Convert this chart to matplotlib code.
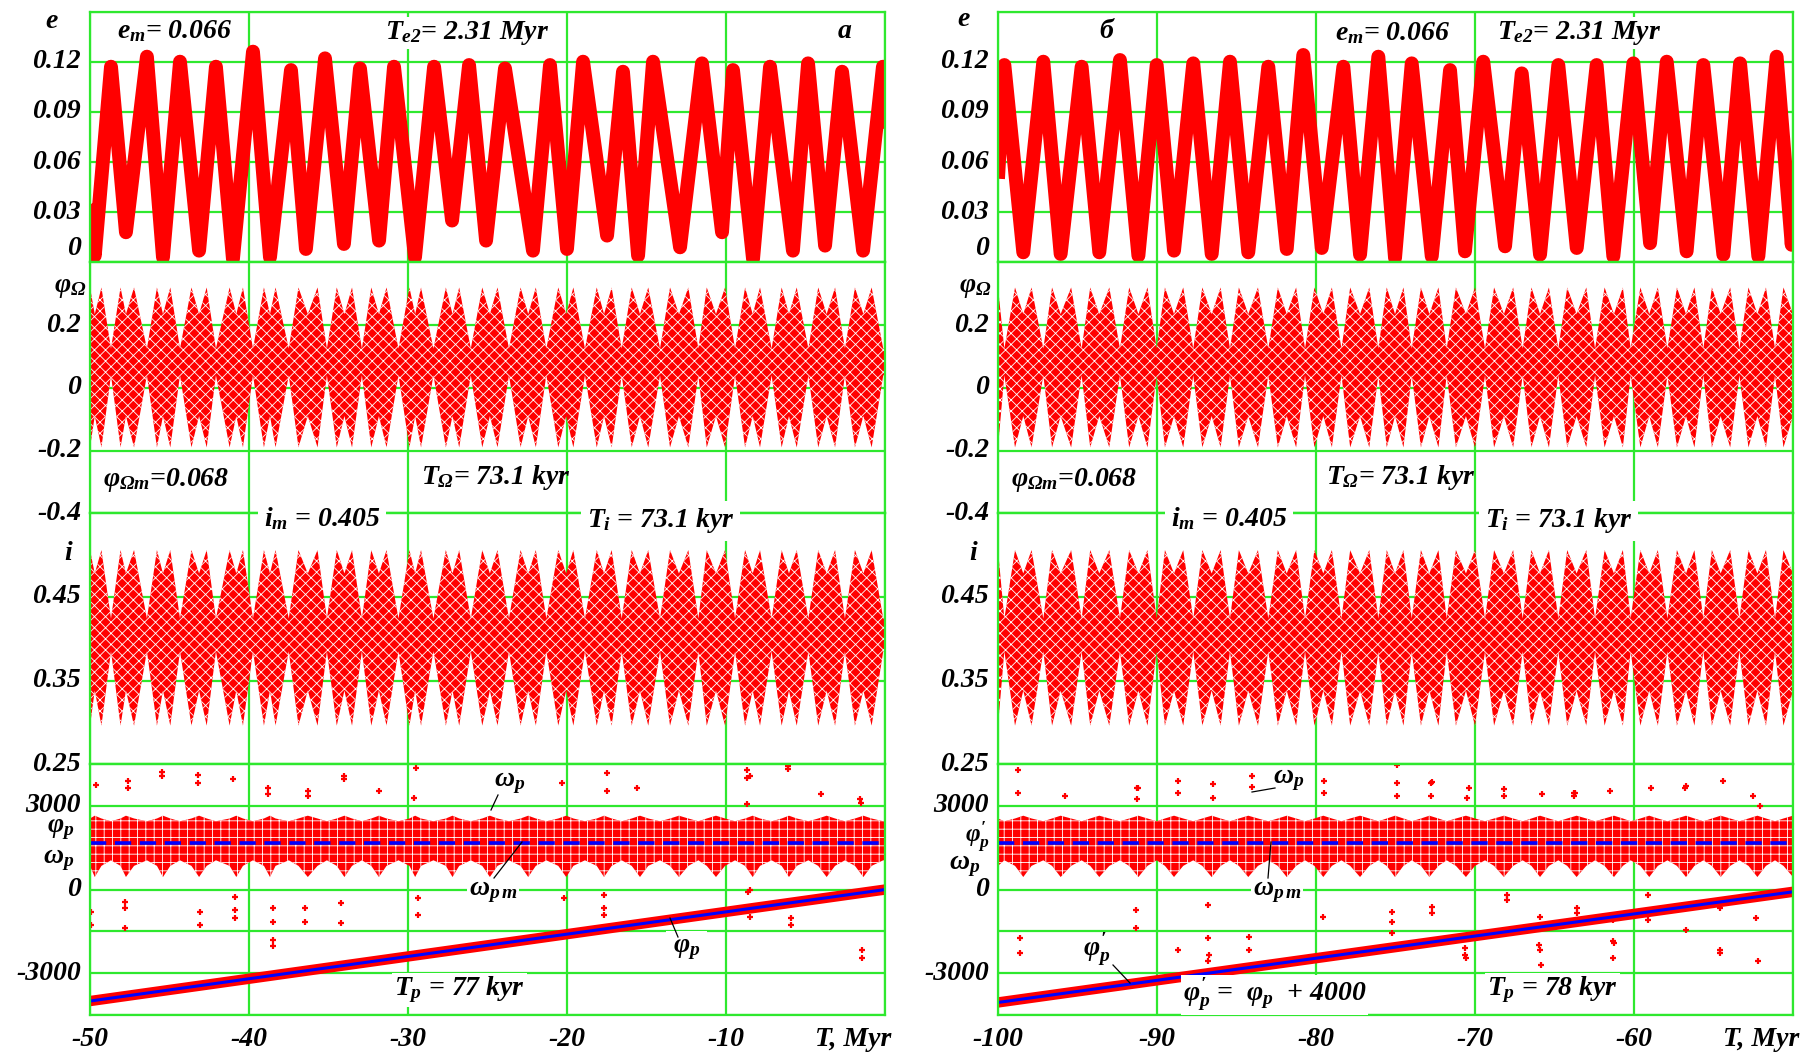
import numpy as np
import matplotlib
matplotlib.use('Agg')
import matplotlib.pyplot as plt

# ---------------- data ----------------
# eccentricity extremes, left panel (T in Myr)
eL_T = [-50.0, -49.7, -48.68, -47.74, -46.42, -45.41, -44.34, -43.14, -42.08, -41.01, -39.75, -38.68,
        -37.36, -36.42, -35.22, -34.03, -33.02, -31.82, -30.88, -29.56, -28.36, -27.23, -26.16, -25.09,
        -23.9, -22.14, -21.07, -20.0, -18.99, -17.48, -16.48, -15.53, -14.59, -12.89, -11.51, -10.25,
        -9.56, -8.30, -7.23, -5.79, -4.84, -3.77, -2.70, -1.38, -0.13, 0.0]
eL_v = [0.035, 0.004, 0.117, 0.018, 0.123, 0.003, 0.120, 0.007, 0.117, 0.002, 0.126, 0.003,
        0.115, 0.008, 0.122, 0.011, 0.116, 0.013, 0.117, 0.003, 0.117, 0.025, 0.118, 0.013,
        0.116, 0.007, 0.118, 0.008, 0.120, 0.016, 0.114, 0.004, 0.120, 0.009, 0.119, 0.018,
        0.115, 0.002, 0.117, 0.007, 0.119, 0.010, 0.114, 0.007, 0.117, 0.080]
# eccentricity extremes, right panel
eR_T = [-100.0, -99.6, -98.41, -97.15, -96.06, -94.74, -93.63, -92.33, -91.17, -90.02, -88.93, -87.72,
        -86.56, -85.41, -84.26, -83.0, -81.84, -80.80, -79.64, -78.28, -77.23, -76.08, -75.03, -73.98,
        -72.72, -71.57, -70.63, -69.48, -68.11, -67.06, -65.91, -64.76, -63.60, -62.35, -61.30, -60.04,
        -58.99, -57.94, -56.69, -55.64, -54.38, -53.33, -52.18, -51.03, -50.08, -50.0]
eR_v = [0.05, 0.118, 0.006, 0.12, 0.005, 0.117, 0.006, 0.121, 0.004, 0.118, 0.007, 0.119,
        0.005, 0.12, 0.006, 0.117, 0.008, 0.124, 0.0086, 0.117, 0.0046, 0.123, 0.0026, 0.119,
        0.0036, 0.115, 0.0066, 0.12, 0.0096, 0.113, 0.0046, 0.118, 0.0086, 0.118, 0.0036, 0.119,
        0.0115, 0.12, 0.0066, 0.118, 0.0046, 0.119, 0.0036, 0.123, 0.0105, 0.03]

# envelope knots of the phi_Omega / i / omega_p bands: necks (N), shallow necks (S), lobes (L)
envL_N = [-48.68, -46.42, -44.34, -42.08, -39.75, -37.5, -35.1, -32.9, -30.6, -28.4, -26.05, -23.65,
          -21.3, -18.87, -16.56, -14.15, -11.74, -9.43, -7.13, -4.82, -2.52, -0.11, 0.0]
envL_S = [-49.7, -47.74, -45.41, -43.14, -40.8, -38.68, -36.3, -34.0, -31.83, -29.55, -27.2, -24.85,
          -22.44, -20.05, -17.67, -15.41, -12.96, -10.63, -8.32, -6.04, -3.67, -1.36]
envL_L = [-50.0, -49.28, -48.08, -47.23, -45.79, -44.95, -43.62, -42.66, -41.22, -40.38, -39.06, -38.33,
          -36.89, -35.69, -34.48, -33.52, -32.31, -31.35, -29.91, -29.18, -27.62, -26.78, -25.33, -24.37,
          -22.92, -21.96, -20.55, -19.6, -18.13, -17.19, -15.93, -14.89, -13.52, -12.37, -11.21, -10.06,
          -8.8, -7.86, -6.5, -5.55, -4.2, -3.14, -1.89, -0.84]
envR_N = [-99.6, -97.15, -94.74, -92.33, -90.02, -87.72, -85.41, -83.0, -80.69, -78.4, -76.08, -73.98,
          -71.78, -69.37, -67.0, -64.76, -62.45, -60.21, -57.9, -55.64, -53.37, -51.13]
envR_S = [-98.41, -96.06, -93.63, -91.17, -88.93, -86.56, -84.26, -81.84, -79.54, -77.23, -75.03, -72.87,
          -70.57, -68.18, -65.91, -63.61, -61.26, -59.04, -56.73, -54.55, -52.24, -50.0]
envR_L = [-100.0, -98.93, -97.89, -96.6, -95.4, -94.2, -93.0, -91.75, -90.6, -89.5, -88.35, -87.15,
          -86.0, -84.85, -83.65, -82.4, -81.25, -80.1, -79.0, -77.85, -76.65, -75.55, -74.5, -73.4,
          -72.3, -71.2, -70.0, -68.8, -67.6, -66.45, -65.35, -64.2, -63.0, -61.85, -60.7, -59.6,
          -58.5, -57.3, -56.2, -55.1, -53.95, -52.8, -51.7, -50.6]
# band levels (low, high) read at each knot kind
phiO_levels = {'N': (0.04, 0.125), 'S': (-0.09, 0.235), 'L': (-0.19, 0.32)}
inc_levels = {'N': (0.385, 0.424), 'S': (0.338, 0.478), 'L': (0.296, 0.506)}
omp_levels = {'N': (1050, 2450), 'S': (450, 2650), 'L': (850, 2550)}

# scattered omega_p points outside the dense cloud
oL_T = [-49.64, -47.6, -47.6, -45.5, -45.5, -43.2, -43.2, -41.0, -38.8, -38.8, -36.3, -36.3, -34.0, -34.0,
        -31.8, -29.5, -29.6, -20.3, -17.5, -17.5, -15.6, -8.7, -8.7, -8.5, -6.1, -6.1, -4.0, -1.57, -1.5, -8.7,
        -49.95, -49.95, -47.8, -47.8, -47.8, -43.1, -43.1, -40.9, -40.9, -40.9, -38.5, -38.5, -38.5, -38.5,
        -36.5, -36.5, -34.2, -34.2, -29.4, -29.4, -20.2, -17.7, -17.7, -17.7, -8.5, -8.5, -5.9, -5.9,
        -1.47, -1.47, -8.6]
oL_v = [3735, 3890, 3652, 4210, 4067, 4126, 3830, 3949, 3652, 3415, 3534, 3356, 4091, 3949,
        3534, 4364, 3297, 3830, 4186, 3534, 3652, 4304, 4008, 4067, 4423, 4328, 3415, 3237, 3119, 3059,
        -795, -1269, -439, -676, -1387, -795, -1269, -261, -735, -1032, -676, -1150, -1802, -2040,
        -676, -1150, -498, -1210, -320, -913, -320, -201, -913, -676, -24, -972, -1032, -1269,
        -2158, -2455, -83]
oR_T = [-98.72, -98.72, -95.8, -91.28, -91.2, -91.25, -88.71, -88.71, -86.47, -86.47, -84.04, -84.04,
        -79.5, -79.5, -74.9, -74.9, -74.9, -72.76, -72.76, -72.7, -70.4, -70.5, -68.2, -68.2, -65.8,
        -63.8, -63.7, -63.75, -61.5, -58.9, -56.8, -56.7, -54.4, -52.5, -52.1,
        -98.6, -98.6, -91.3, -91.3, -88.7, -86.8, -86.8, -86.75, -86.8, -84.2, -84.2, -79.56, -75.2,
        -75.2, -75.2, -72.7, -72.7, -70.6, -70.6, -70.55, -68.0, -68.0, -65.9, -65.95, -65.9, -65.85,
        -63.6, -63.6, -61.3, -61.3, -61.3, -61.25, -61.35, -59.1, -59.1, -56.7, -54.6, -54.6, -54.6,
        -52.3, -52.3, -52.2]
oR_v = [4280, 3474, 3356, 3652, 3652, 3237, 3889, 3474, 3770, 3297, 4067, 3688,
        3889, 3474, 4482, 3830, 3356, 3830, 3356, 3854, 3652, 3297, 3593, 3356, 3415,
        3474, 3474, 3356, 3534, 3652, 3652, 3711, 3889, 3356, 3000,
        -1743, -2277, -735, -1387, -2158, -557, -1743, -2336, -2573, -1684, -2158, -972, -795,
        -1150, -1565, -617, -854, -2099, -2336, -2455, -201, -380, -972, -1980, -2158, -2692,
        -676, -854, -913, -1091, -1862, -1921, -2455, -201, -1091, -1447, -676, -2158, -2277,
        -320, -1032, -2573]

# phi_p lines and mean omega_p
phL_T, phL_v = [-50.0, 0.0], [-4000, 0]
phR_T, phR_v = [-100.0, -50.0], [-4050, -80]
omega_pm = 1660

# ---------------- style ----------------
W, H = 1813, 1058
GREEN = '#2ee82e'
RED = '#ff0000'
BLUE = '#0000ff'
FS = 20

plt.rcParams['font.family'] = ['Liberation Serif', 'DejaVu Serif']
plt.rcParams['font.weight'] = 'bold'
plt.rcParams['font.style'] = 'italic'
plt.rcParams['mathtext.fontset'] = 'custom'
plt.rcParams['mathtext.it'] = 'Liberation Serif:italic:bold'
plt.rcParams['mathtext.rm'] = 'Liberation Serif:italic:bold'
plt.rcParams['mathtext.bf'] = 'Liberation Serif:italic:bold'
plt.rcParams['hatch.color'] = 'white'
plt.rcParams['hatch.linewidth'] = 0.6

fig = plt.figure(figsize=(W / 100, H / 100), dpi=100)

TOP, BOT = 11.5, 1015.0
SEC = (BOT - TOP) / 4


def rect(x0, x1, y0, y1):
    return [x0 / W, 1 - y1 / H, (x1 - x0) / W, (y1 - y0) / H]


def ftext(x, y, s, ha='left', va='center', size=FS, bg=False, pad=1.5):
    kw = {}
    if bg:
        kw['bbox'] = dict(facecolor='white', edgecolor='none', pad=pad)
    fig.text(x / W, 1 - y / H, s, ha=ha, va=va, fontsize=size, zorder=10, **kw)


def build_env(N, S, L, levels):
    pts = sorted([(t, 'N') for t in N] + [(t, 'S') for t in S] + [(t, 'L') for t in L])
    T = [p[0] for p in pts]
    lo = [levels[p[1]][0] for p in pts]
    hi = [levels[p[1]][1] for p in pts]
    return T, lo, hi


def style_axes(ax, xlim, xt, yl, yt):
    ax.set_xlim(*xlim)
    ax.set_ylim(*yl)
    ax.set_xticks(xt)
    ax.set_yticks(yt)
    ax.tick_params(length=0, labelleft=False, labelbottom=False)
    ax.grid(True, color=GREEN, lw=1.6)
    ax.set_axisbelow(True)
    for sp in ax.spines.values():
        sp.set_color(GREEN)
        sp.set_linewidth(1.6)


def ylab(ax, x_right, val, s):
    disp = ax.transData.transform((ax.get_xlim()[0], val))
    y = H - disp[1]
    ftext(x_right, y, s, ha='right')


panels = [
    dict(x0=90, x1=885, xlim=(-50, 0), xt=list(range(-50, 1, 10)), eT=eL_T, ev=eL_v,
         env=(envL_N, envL_S, envL_L), oT=oL_T, ov=oL_v, phT=phL_T, phv=phL_v),
    dict(x0=998, x1=1793, xlim=(-100, -50), xt=list(range(-100, -49, 10)), eT=eR_T, ev=eR_v,
         env=(envR_N, envR_S, envR_L), oT=oR_T, ov=oR_v, phT=phR_T, phv=phR_v),
]

for P in panels:
    x0, x1 = P['x0'], P['x1']
    axE = fig.add_axes(rect(x0, x1, TOP, TOP + SEC))
    axO = fig.add_axes(rect(x0, x1, TOP + SEC, TOP + 2 * SEC))
    axI = fig.add_axes(rect(x0, x1, TOP + 2 * SEC, TOP + 3 * SEC))
    axP = fig.add_axes(rect(x0, x1, TOP + 3 * SEC, BOT))
    style_axes(axE, P['xlim'], P['xt'], (0, 0.15), [0, 0.03, 0.06, 0.09, 0.12, 0.15])
    style_axes(axO, P['xlim'], P['xt'], (-0.4, 0.4), [-0.4, -0.2, 0, 0.2, 0.4])
    style_axes(axI, P['xlim'], P['xt'], (0.25, 0.55), [0.25, 0.35, 0.45, 0.55])
    style_axes(axP, P['xlim'], P['xt'], (-4500, 4500), [-4500, -3000, -1500, 0, 1500, 3000, 4500])
    P['axes'] = (axE, axO, axI, axP)

    # e : thick noisy band drawn as a heavy line through the read extremes
    axE.plot(P['eT'], P['ev'], color=RED, lw=10, solid_joinstyle='round', solid_capstyle='butt')
    # phi_Omega and i bands
    N, S, L = P['env']
    T, lo, hi = build_env(N, S, L, phiO_levels)
    axO.fill_between(T, lo, hi, facecolor=RED, edgecolor='white', hatch='xxx', lw=0)
    T, lo, hi = build_env(N, S, L, inc_levels)
    axI.fill_between(T, lo, hi, facecolor=RED, edgecolor='white', hatch='xxx', lw=0)
    # omega_p cloud
    T, lo, hi = build_env(N, S, L, omp_levels)
    axP.fill_between(T, lo, hi, facecolor=RED, edgecolor='white', hatch='++', lw=0)
    axP.plot(P['oT'], P['ov'], ls='none', marker='+', ms=5, mew=1.6, color=RED)
    axP.plot(P['xlim'], [omega_pm, omega_pm], color=BLUE, lw=2.6, dashes=(4.5, 2.4))
    # phi_p
    axP.plot(P['phT'], P['phv'], color=RED, lw=7.5, solid_capstyle='butt')
    axP.plot(P['phT'], P['phv'], color=BLUE, lw=2.2, solid_capstyle='butt')

fig.canvas.draw()

# ---------------- labels ----------------
for P in panels:
    axE, axO, axI, axP = P['axes']
    xr = P['x0'] - 9
    for v, s in [(0.12, '0.12'), (0.09, '0.09'), (0.06, '0.06'), (0.03, '0.03')]:
        ylab(axE, xr, v, s)
    ylab(axE, xr, 0.008, '0')
    for v, s in [(0.2, '0.2'), (0.0, '0'), (-0.2, '-0.2'), (-0.4, '-0.4')]:
        ylab(axO, xr, v, s)
    for v, s in [(0.45, '0.45'), (0.35, '0.35'), (0.25, '0.25')]:
        ylab(axI, xr, v, s)
    for v, s in [(3000, '3000'), (0, '0'), (-3000, '-3000')]:
        ylab(axP, xr, v, s)
    for t in P['xt'][:-1]:
        xd = axP.transData.transform((t, 0))[0]
        ftext(xd, 1040, str(t), ha='center')
    ftext(P['x1'] + 6, 1040, 'T, Myr', ha='right')

# left panel texts
ftext(52, 22, 'e', ha='center')
ftext(117, 31, r'$e_m$= 0.066')
ftext(385, 33, r'$T_{e2}$= 2.31 Myr', bg=True)
ftext(845, 31, 'а', ha='center')
ftext(70, 287, r'$\varphi_{\Omega}$', ha='center')
ftext(103, 480, r'$\varphi_{\Omega m}$=0.068')
ftext(421, 477, r'$T_{\Omega}$= 73.1 kyr')
ftext(264, 519, r'$i_m$ = 0.405', bg=True, pad=4)
ftext(587, 521, r'$T_i$ = 73.1 kyr', bg=True, pad=4)
ftext(68, 553, 'i', ha='center')
ftext(74, 829, r'$\varphi_p$', ha='right')
ftext(74, 860, r'$\omega_p$', ha='right')
ftext(494, 783, r'$\omega_p$')
ftext(469, 892, r'$\omega_{p\,m}$', bg=True)
ftext(673, 950, r'$\varphi_p$', bg=True, pad=5)
ftext(394, 990, r'$T_p$ = 77 kyr', bg=True)

# right panel texts
ftext(964, 20, 'e', ha='center')
ftext(1106, 31, 'б', ha='center')
ftext(1335, 33, r'$e_m$= 0.066')
ftext(1497, 33, r'$T_{e2}$= 2.31 Myr', bg=True)
ftext(975, 287, r'$\varphi_{\Omega}$', ha='center')
ftext(1011, 480, r'$\varphi_{\Omega m}$=0.068')
ftext(1326, 477, r'$T_{\Omega}$= 73.1 kyr')
ftext(1171, 519, r'$i_m$ = 0.405', bg=True, pad=4)
ftext(1485, 521, r'$T_i$ = 73.1 kyr', bg=True, pad=4)
ftext(973, 553, 'i', ha='center')
ftext(990, 837, r"$\varphi_p'$", ha='right', size=18)
ftext(980, 866, r'$\omega_p$', ha='right')
ftext(1273, 780, r'$\omega_p$')
ftext(1253, 892, r'$\omega_{p\,m}$', bg=True)
ftext(1083, 950, r"$\varphi_p'$")
ftext(1183, 995, r"$\varphi_p'$ =  $\varphi_p$  + 4000", bg=True)
ftext(1487, 990, r'$T_p$ = 78 kyr', bg=True)

# leader lines (figure pixel coordinates)
for (xa, ya, xb, yb) in [(491, 810, 498, 795), (494, 878, 522, 842), (678, 937, 670, 918),
                         (1252, 792, 1275, 788), (1268, 878, 1271, 842), (1113, 965, 1130, 983)]:
    fig.add_artist(plt.Line2D([xa / W, xb / W], [1 - ya / H, 1 - yb / H], color='black', lw=0.9,
                              zorder=11))

fig.savefig('out.png', dpi=100)
